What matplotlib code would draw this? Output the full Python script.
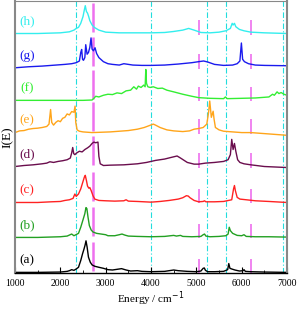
import numpy as np
import matplotlib
matplotlib.use("Agg")
import matplotlib.pyplot as plt

plt.rcParams['font.family'] = ['Liberation Serif', 'DejaVu Serif']

# spectra (energy in cm^-1, intensity relative to own baseline)
a_x = [1000, 1500, 2000, 2150, 2200, 2250, 2300, 2350, 2400, 2450, 2490, 2520, 2545, 2566, 2590, 2620, 2660, 2700, 2760, 2850, 2950, 3050, 3150, 3250, 3350, 3450, 3550, 3700, 3800, 4000, 4300, 4500, 4600, 4800, 5000, 5100, 5150, 5175, 5200, 5250, 5400, 5600, 5690, 5715, 5740, 5780, 5850, 5950, 6030, 6050, 6080, 6200, 6500, 7000]
a_y = [0.0, 0.0, 0.01, 0.03, 0.05, 0.08, 0.06, 0.10, 0.15, 0.35, 0.55, 0.68, 0.80, 0.93, 0.75, 0.45, 0.30, 0.22, 0.18, 0.15, 0.12, 0.08, 0.07, 0.09, 0.11, 0.07, 0.04, 0.05, 0.03, 0.02, 0.03, 0.07, 0.05, 0.03, 0.02, 0.04, 0.12, 0.13, 0.06, 0.02, 0.02, 0.03, 0.08, 0.26, 0.12, 0.10, 0.07, 0.04, 0.05, 0.08, 0.03, 0.02, 0.01, 0.0]

b_x = [1000, 1500, 2000, 2150, 2250, 2300, 2400, 2450, 2500, 2540, 2565, 2585, 2610, 2640, 2680, 2720, 2800, 2900, 3000, 3050, 3200, 3300, 3360, 3420, 3500, 3700, 4000, 4300, 4500, 4560, 4650, 4700, 4900, 5100, 5150, 5180, 5210, 5300, 5500, 5650, 5700, 5725, 5750, 5800, 5900, 6000, 6050, 6100, 6300, 6600, 7000]
b_y = [0.0, 0.0, 0.02, 0.04, 0.1, 0.05, 0.12, 0.3, 0.52, 0.7, 0.88, 0.85, 0.6, 0.35, 0.22, 0.16, 0.12, 0.1, 0.08, 0.05, 0.05, 0.08, 0.1, 0.07, 0.04, 0.03, 0.02, 0.03, 0.06, 0.04, 0.06, 0.03, 0.02, 0.03, 0.08, 0.1, 0.04, 0.02, 0.03, 0.05, 0.1, 0.3, 0.2, 0.12, 0.06, 0.05, 0.08, 0.03, 0.02, 0.02, 0.01]

c_x = [1000, 1500, 1800, 2000, 2100, 2200, 2280, 2320, 2350, 2400, 2450, 2500, 2530, 2550, 2575, 2600, 2630, 2650, 2680, 2720, 2760, 2850, 3000, 3200, 3400, 3450, 3500, 3700, 4000, 4200, 4400, 4600, 4700, 4780, 4820, 4860, 4950, 5050, 5150, 5180, 5210, 5400, 5600, 5780, 5820, 5840, 5860, 5900, 5960, 6100, 6300, 6600, 7000]
c_y = [0.0, 0.0, 0.02, 0.03, 0.06, 0.08, 0.12, 0.25, 0.18, 0.25, 0.4, 0.62, 0.75, 0.8, 0.65, 0.48, 0.42, 0.44, 0.35, 0.2, 0.1, 0.06, 0.05, 0.04, 0.05, 0.08, 0.04, 0.03, 0.01, 0.03, 0.06, 0.1, 0.14, 0.2, 0.19, 0.14, 0.06, 0.02, 0.03, 0.05, 0.02, 0.02, 0.03, 0.08, 0.4, 0.5, 0.35, 0.15, 0.1, 0.08, 0.05, 0.03, 0.0]

d_x = [1000, 1200, 1400, 1600, 1700, 1770, 1850, 1950, 2050, 2150, 2220, 2250, 2273, 2295, 2320, 2360, 2420, 2480, 2540, 2600, 2650, 2700, 2740, 2780, 2830, 2850, 2880, 2950, 3100, 3400, 3700, 3900, 4100, 4300, 4450, 4575, 4650, 4800, 4950, 5050, 5200, 5400, 5600, 5700, 5750, 5780, 5810, 5840, 5870, 5910, 5960, 6050, 6200, 6500, 7000]
d_y = [0.0, 0.03, 0.05, 0.08, 0.1, 0.14, 0.12, 0.15, 0.17, 0.2, 0.25, 0.4, 0.56, 0.38, 0.35, 0.4, 0.45, 0.43, 0.5, 0.55, 0.6, 0.68, 0.72, 0.7, 0.72, 0.3, 0.08, 0.03, 0.04, 0.05, 0.08, 0.12, 0.18, 0.22, 0.27, 0.31, 0.25, 0.12, 0.07, 0.07, 0.1, 0.12, 0.15, 0.2, 0.35, 0.8, 0.5, 0.68, 0.45, 0.2, 0.12, 0.08, 0.05, 0.0, -0.03]

e_x = [1000, 1100, 1200, 1300, 1400, 1500, 1600, 1700, 1750, 1785, 1810, 1850, 1900, 1950, 2000, 2050, 2100, 2150, 2200, 2250, 2300, 2325, 2340, 2370, 2420, 2500, 2700, 2900, 3100, 3300, 3500, 3700, 3850, 3950, 4050, 4100, 4200, 4350, 4500, 4700, 4850, 4950, 5050, 5150, 5230, 5270, 5295, 5330, 5370, 5390, 5420, 5500, 5600, 5800, 6000, 6200, 6500, 7000]
e_y = [0.0, 0.05, 0.06, 0.1, 0.12, 0.13, 0.15, 0.18, 0.25, 0.68, 0.3, 0.22, 0.3, 0.35, 0.32, 0.42, 0.45, 0.55, 0.52, 0.62, 0.6, 0.78, 0.3, 0.08, 0.04, 0.02, 0.0, 0.01, 0.02, 0.04, 0.06, 0.1, 0.15, 0.2, 0.25, 0.22, 0.15, 0.08, 0.05, 0.03, 0.05, 0.1, 0.12, 0.15, 0.25, 0.6, 0.93, 0.45, 0.63, 0.4, 0.15, 0.08, 0.04, 0.02, 0.0, 0.0, -0.03, -0.08]

f_x = [1000, 1500, 2000, 2500, 2700, 2740, 2780, 2850, 2950, 3050, 3150, 3250, 3350, 3450, 3550, 3620, 3680, 3720, 3780, 3840, 3870, 3885, 3900, 3930, 3980, 4050, 4150, 4250, 4350, 4500, 4700, 4900, 5050, 5300, 5600, 5640, 5680, 6000, 6300, 6600, 6680, 6720, 6780, 6820, 6870, 6930, 7000]
f_y = [0.0, 0.0, 0.0, 0.0, 0.01, 0.06, 0.12, 0.1, 0.15, 0.18, 0.17, 0.22, 0.2, 0.28, 0.3, 0.4, 0.33, 0.42, 0.38, 0.45, 0.4, 0.91, 0.5, 0.4, 0.38, 0.4, 0.35, 0.36, 0.3, 0.25, 0.18, 0.12, 0.08, 0.06, 0.05, 0.1, 0.05, 0.06, 0.07, 0.1, 0.18, 0.15, 0.25, 0.2, 0.23, 0.18, 0.15]

g_x = [1000, 1300, 1600, 1900, 2100, 2250, 2350, 2420, 2450, 2470, 2490, 2510, 2540, 2560, 2590, 2620, 2650, 2677, 2700, 2730, 2765, 2800, 2850, 2950, 3050, 3150, 3300, 3400, 3600, 3800, 4000, 4300, 4600, 4900, 5050, 5160, 5250, 5400, 5600, 5800, 5900, 5960, 5993, 6020, 6060, 6150, 6300, 6500, 7000]
g_y = [0.0, 0.03, 0.05, 0.08, 0.1, 0.12, 0.15, 0.2, 0.45, 0.54, 0.25, 0.22, 0.3, 0.68, 0.4, 0.45, 0.6, 0.88, 0.55, 0.5, 0.59, 0.42, 0.3, 0.18, 0.12, 0.1, 0.08, 0.12, 0.08, 0.07, 0.07, 0.08, 0.11, 0.15, 0.18, 0.2, 0.17, 0.1, 0.07, 0.08, 0.12, 0.2, 0.73, 0.25, 0.18, 0.12, 0.08, 0.07, 0.06]

h_x = [1000, 1500, 2000, 2200, 2300, 2350, 2400, 2450, 2500, 2530, 2550, 2575, 2600, 2625, 2650, 2700, 2750, 2850, 3000, 3300, 3600, 4000, 4300, 4500, 4700, 4830, 4950, 5100, 5300, 5500, 5650, 5750, 5790, 5810, 5840, 5870, 5950, 6050, 6200, 6500, 7000]
h_y = [0.0, 0.0, 0.02, 0.05, 0.1, 0.15, 0.18, 0.3, 0.5, 0.7, 0.82, 0.65, 0.6, 0.5, 0.38, 0.25, 0.18, 0.1, 0.04, 0.02, 0.02, 0.02, 0.03, 0.06, 0.1, 0.15, 0.1, 0.03, 0.02, 0.04, 0.08, 0.15, 0.3, 0.25, 0.3, 0.2, 0.12, 0.08, 0.04, 0.02, 0.0]

labels = ['(a)', '(b)', '(c)', '(d)', '(e)', '(f)', '(g)', '(h)']
offsets = [0.0, 1.03, 2.06, 3.12, 4.12, 5.07, 6.03, 7.04]
colors = ['black', '#22a022', '#ff2222', '#6a0d4d', '#ffa51a', '#33ee33', '#1a1aee', '#33eeee']
xs = [a_x, b_x, c_x, d_x, e_x, f_x, g_x, h_x]
ys = [a_y, b_y, c_y, d_y, e_y, f_y, g_y, h_y]

cyan_lines = [2350, 4000, 5230, 5650, 6900]
magenta_long = 2710
magenta_short = [5050, 6200]

fig = plt.figure(figsize=(2.97, 3.11), dpi=100)
ax = fig.add_axes([0.0505, 0.122, 0.916, 0.875])

for xv in cyan_lines:
    ax.axvline(xv, color='#22dddd', lw=0.8, ls='-.', dashes=(5, 2, 1, 2), zorder=1)

for i in range(len(labels)):
    off = offsets[i]
    ax.vlines(magenta_long, off + 0.05, off + 0.9, color='#ee70ee', lw=1.8, zorder=1)
    ax.vlines(magenta_short, off - 0.03, off + 0.4, color='#ee70ee', lw=1.2, zorder=1)
    ax.plot(xs[i], np.array(ys[i]) + off, color=colors[i], lw=1.0, zorder=2)
    ax.text(1270, off + 0.36, labels[i], color=colors[i], fontsize=9.5,
            ha='center', va='center')

ax.set_xlim(1000, 7000)
ax.set_ylim(-0.02, 8.0)
ax.set_xticks([1000, 2000, 3000, 4000, 5000, 6000, 7000])
ax.set_xticks(np.arange(1500, 7000, 1000), minor=True)
ax.set_yticks([])
ax.tick_params(axis='x', which='major', direction='in', length=4, width=0.8, labelsize=7, pad=4)
ax.tick_params(axis='x', which='minor', direction='in', length=2, width=0.6)
for s in ['left', 'right', 'top']:
    ax.spines[s].set_color('#888888')
ax.spines['left'].set_linewidth(1.5)
ax.spines['right'].set_linewidth(1.5)
ax.spines['top'].set_linewidth(0.8)
ax.spines['bottom'].set_linewidth(1.0)
ax.set_xlabel('Energy / cm$^{-1}$', fontsize=8, labelpad=1)
ax.set_ylabel('I(E)', fontsize=9.5, labelpad=1)

plt.savefig('out.png', dpi=100)
